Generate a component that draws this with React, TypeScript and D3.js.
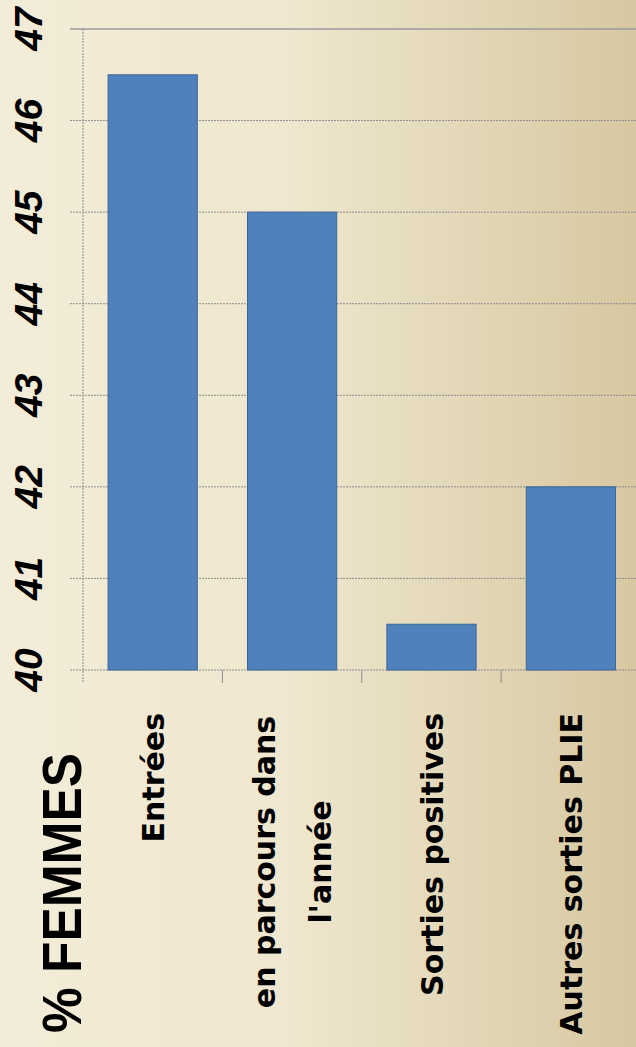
import React from "react";
import * as d3 from "d3";

// Chart values
const categories: string[][] = [
  ["Entrées"],
  ["en parcours dans", "l'année"],
  ["Sorties positives"],
  ["Autres sorties PLIE"],
];
const values: number[] = [46.5, 45, 40.5, 42];
const yTicks: number[] = [40, 41, 42, 43, 44, 45, 46, 47];
const title = "% FEMMES";

const W = 636;
const H = 1047;

export default function App() {
  const y = d3.scaleLinear().domain([40, 47]).range([670, 29]);
  const x = d3
    .scaleBand<number>()
    .domain(d3.range(categories.length))
    .range([83, 83 + 139.4 * categories.length])
    .paddingInner(0.36)
    .paddingOuter(0.18);
  const bandEdges = d3.range(categories.length + 1).map((i) => 83 + i * x.step());
  const lineH = 56;
  const labelTop = 713;

  return (
    <svg
      width={W}
      height={H}
      style={{ position: "absolute", left: 0, top: 0, display: "block" }}
    >
      <defs>
        <linearGradient id="bg" x1="0" x2="1" y1="0" y2="0">
          <stop offset="0%" stopColor="#F3ECD8" />
          <stop offset="45%" stopColor="#EFE7CF" />
          <stop offset="100%" stopColor="#D7C8A1" />
        </linearGradient>
      </defs>
      <rect x={0} y={0} width={W} height={H} fill="url(#bg)" />

      {/* gridlines */}
      {yTicks.map((t) => (
        <line
          key={"g" + t}
          x1={70}
          x2={W}
          y1={y(t)}
          y2={y(t)}
          stroke={t === 47 ? "#9a9a9a" : "#8c8c8c"}
          strokeWidth={t === 47 ? 1.5 : 1}
          strokeDasharray={t === 47 ? undefined : "2 1"}
        />
      ))}

      {/* value axis */}
      <line x1={83} x2={83} y1={y(47)} y2={683} stroke="#8c8c8c" strokeDasharray="2 1" />
      {/* category ticks */}
      {bandEdges.slice(1).map((e, i) => (
        <line key={"t" + i} x1={e} x2={e} y1={y(40)} y2={683} stroke="#8c8c8c" />
      ))}

      {/* bars */}
      {values.map((v, i) => (
        <rect
          key={"b" + i}
          x={x(i)!}
          y={y(v)}
          width={x.bandwidth()}
          height={y(40) - y(v)}
          fill="#4F81BD"
          stroke="#3C6598"
          strokeWidth={1}
        />
      ))}

      {/* value tick labels */}
      {yTicks.map((t) => (
        <text
          key={"l" + t}
          transform={`translate(42,${y(t)}) rotate(-90)`}
          textAnchor="middle"
          fontFamily="Liberation Sans, Arial, sans-serif"
          fontWeight="bold"
          fontStyle="italic"
          fontSize={39}
          fill="#000"
        >
          {t}
        </text>
      ))}

      {/* category labels, rotated and centred on each bar */}
      {categories.map((lines, i) => {
        const cx = x(i)! + x.bandwidth() / 2 + 11;
        return lines.map((ln, j) => (
          <text
            key={"c" + i + "-" + j}
            transform={`translate(${cx + (j - (lines.length - 1) / 2) * lineH},${labelTop}) rotate(-90)`}
            textAnchor={lines.length > 1 ? "middle" : "end"}
            dx={lines.length > 1 ? -149 : 0}
            fontFamily="DejaVu Sans, sans-serif"
            fontWeight="bold"
            fontSize={30}
            fill="#000"
          >
            {ln}
          </text>
        ));
      })}

      {/* title */}
      <text
        transform={`translate(81,1033) rotate(-90)`}
        textAnchor="start"
        fontFamily="Liberation Sans, Arial, sans-serif"
        fontWeight="bold"
        fontSize={56}
        textLength={280}
        lengthAdjust="spacingAndGlyphs"
        fill="#000"
      >
        {title}
      </text>
    </svg>
  );
}
